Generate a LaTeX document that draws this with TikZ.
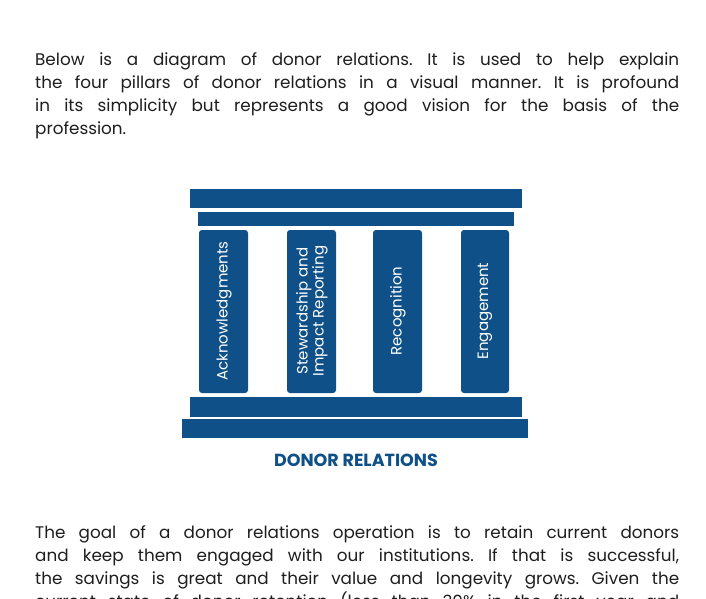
\documentclass[tikz,border=0pt]{standalone}
\usepackage{fontspec}
\setmainfont{Poppins}
\frenchspacing
\definecolor{dblue}{RGB}{14,80,135}
\definecolor{txt}{RGB}{30,30,30}
\begin{document}
\begin{tikzpicture}[x=1pt,y=-1pt,
  bar/.style={fill=dblue,draw=none},
  pillar/.style={fill=dblue,draw=none,rounded corners=3pt},
  ptext/.style={white,rotate=90,font=\fontsize{15}{16}\selectfont,align=center},
  line/.style={anchor=base west,inner sep=0pt,txt,font=\fontsize{16.8}{20}\selectfont}]
\useasboundingbox[fill=white] (0,0) rectangle (706,598);
\begin{scope}
\clip (0,0) rectangle (706,598);
\node[line] (l1) at (35,65) {\makebox[644pt][s]{Below is a diagram of donor relations. It is used to help explain}};
\node[line] (l2) at (35,88) {\makebox[644pt][s]{the four pillars of donor relations in a visual manner. It is profound}};
\node[line] (l3) at (35,111) {\makebox[644pt][s]{in its simplicity but represents a good vision for the basis of the}};
\node[line] (l4) at (35,134) {profession.};
\node[line] (m1) at (35,538) {\makebox[644pt][s]{The goal of a donor relations operation is to retain current donors}};
\node[line] (m2) at (35,561) {\makebox[644pt][s]{and keep them engaged with our institutions. If that is successful,}};
\node[line] (m3) at (35,584) {\makebox[644pt][s]{the savings is great and their value and longevity grows. Given the}};
\node[line] (m4) at (35,607) {\makebox[644pt][s]{current state of donor retention (less than 30\% in the first year and}};
\end{scope}
\fill[bar] (190,189) rectangle (522,208);
\fill[bar] (198,212) rectangle (514,226);
\fill[pillar] (199,230) rectangle (248,393);
\fill[pillar] (287,230) rectangle (336,393);
\fill[pillar] (373,230) rectangle (422,393);
\fill[pillar] (461,230) rectangle (509,393);
\fill[bar] (190,397) rectangle (522,417);
\fill[bar] (182,419) rectangle (528,438);
\node[ptext] (p1) at (224,311) {Acknowledgments};
\node[ptext] (p2) at (312,311) {Stewardship and\\Impact Reporting};
\node[ptext] (p3) at (398,311) {Recognition};
\node[ptext] (p4) at (485,311) {Engagement};
\node[dblue,font=\fontsize{17.5}{20}\selectfont\bfseries] (dr) at (356,460) {DONOR RELATIONS};
\end{tikzpicture}
\end{document}
